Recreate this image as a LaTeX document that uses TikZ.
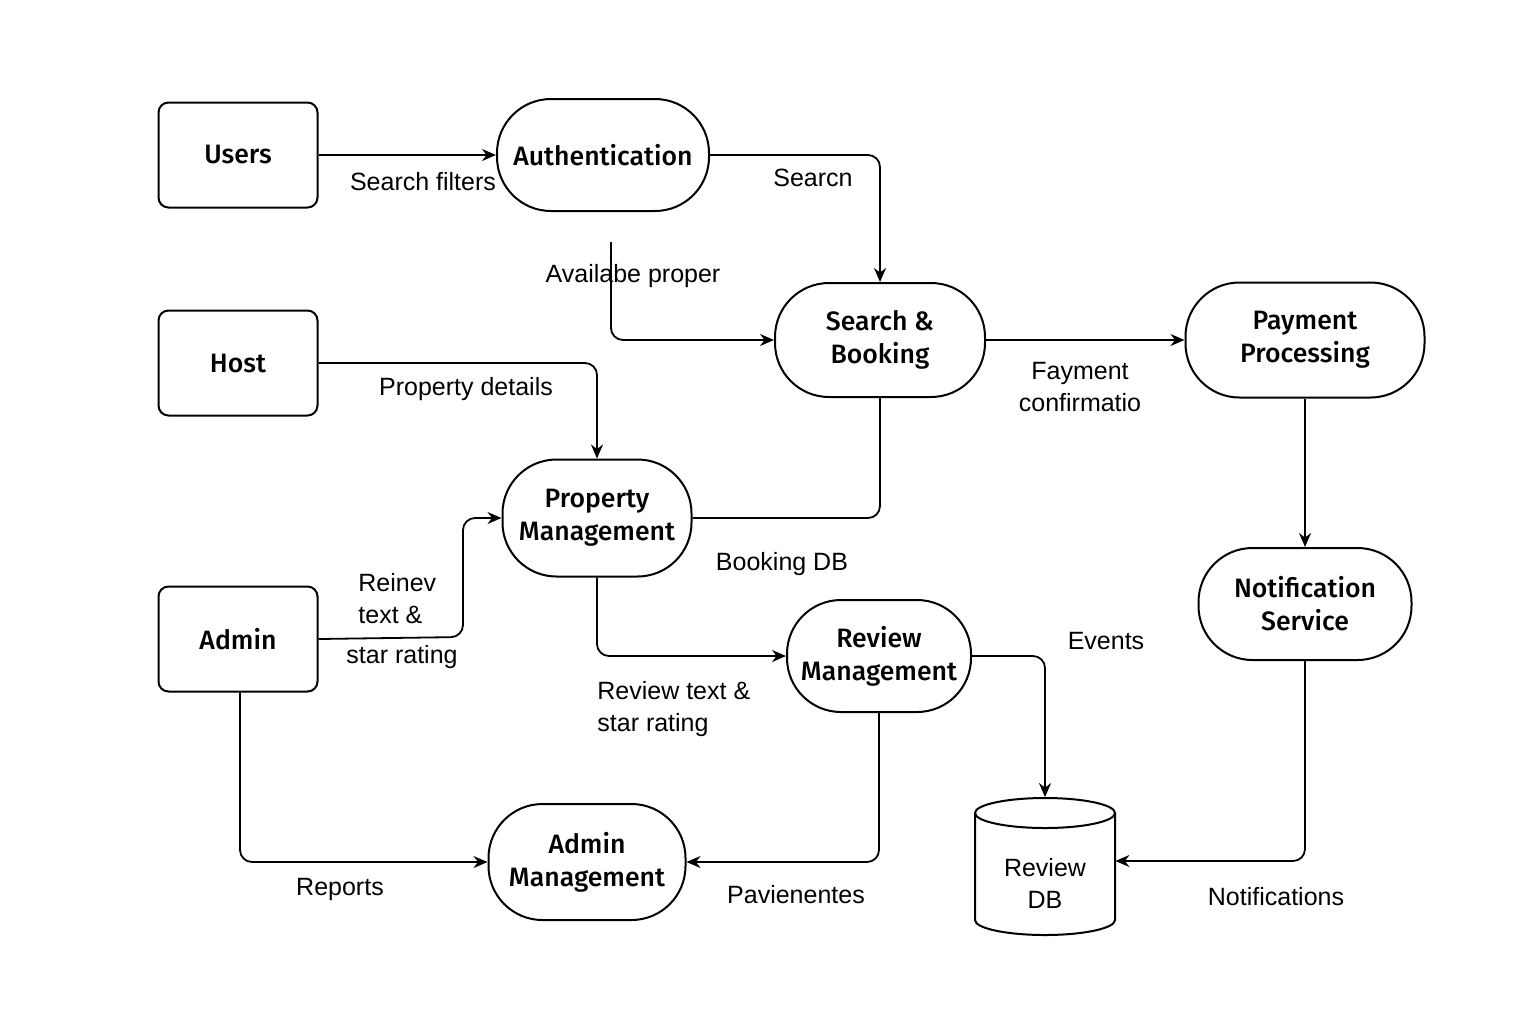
\documentclass[tikz,border=0pt]{standalone}
\usepackage{fontspec}
\setmainfont{Liberation Sans}
\newfontfamily\nodefont{Fira Sans Medium}
\usetikzlibrary{arrows.meta}
\begin{document}
\begin{tikzpicture}[x=0.5pt,y=-0.5pt,
  ent/.style={draw,line width=1pt,rounded corners=5pt,minimum width=79.5pt,minimum height=52.5pt,font=\nodefont\fontsize{13.3}{16.5}\selectfont},
  proc/.style={draw,line width=1pt,rounded corners=27pt,align=center,font=\nodefont\fontsize{13.3}{16.5}\selectfont,inner sep=0pt},
  conn/.style={line width=0.9pt,rounded corners=6pt},
  arr/.style={conn,-{Stealth[length=7pt,width=6pt]}},
  lbl/.style={font=\fontsize{12.5}{16}\selectfont,align=left,inner sep=0pt}
]
\useasboundingbox[fill=white] (0,0) rectangle (1536,1024);
% entities
\node[ent] (users) at (238,155) {Users};
\node[ent] (host) at (238,363) {Host};
\node[ent] (admin) at (238,639) {Admin};
% processes
\node[proc,minimum width=106pt,minimum height=56pt] (auth) at (603,155) {Authentication};
\node[proc,minimum width=105pt,minimum height=57pt] (sb) at (880,340) {Search \&\\Booking};
\node[proc,minimum width=119.5pt,minimum height=57.5pt] (pay) at (1305,340) {Payment\\Processing};
\node[proc,minimum width=94.5pt,minimum height=58.5pt] (pm) at (597,518) {Property\\Management};
\node[proc,minimum width=106.5pt,minimum height=56pt] (ns) at (1305,604) {Notification\\Service};
\node[proc,minimum width=92pt,minimum height=56pt] (rm) at (879,656) {Review\\Management};
\node[proc,minimum width=98.5pt,minimum height=58pt] (am) at (587,862) {Admin\\Management};
% database
\node[minimum width=70pt,minimum height=68.5pt,inner sep=0pt] (rdb) at (1045,866) {};
\draw[line width=1pt,fill=white] (975,813) -- (975,920) arc[start angle=180,end angle=0,x radius=70,y radius=15] -- (1115,813);
\draw[line width=1pt] (1045,813) ellipse [x radius=70,y radius=15];
\node[font=\fontsize{12.5}{16}\selectfont,align=center] at (1045,883) {Review\\DB};
% free start
\coordinate (avs) at (611,242);
% connectors
\draw[arr] (users.east) -- (auth.west);
\draw[arr] (auth.east) -| (sb.north);
\draw[arr] (avs) |- (sb.west);
\draw[arr] (sb.east) -- (pay.west);
\draw[arr] (host.east) -| (pm.north);
\draw[conn] (sb.south) |- (pm.east);
\draw[arr] (pay.south) -- (ns.north);
\draw[arr] (admin.east) -- (463,637) |- (pm.west);
\draw[arr] (pm.south) |- (rm.west);
\draw[arr] (rm.east) -| (rdb.north);
\draw[arr] (ns.south) |- ([yshift=2.5pt]rdb.east);
\draw[arr] ([xshift=1pt]admin.south) |- (am.west);
\draw[arr] (rm.south) |- (am.east);
% labels
\node[lbl] at (423,182) {Search filters};
\node[lbl] at (813,178) {Searcn};
\node[lbl] at (633,276) {Availabe proper};
\node[lbl,align=center] at (1080,387) {Fayment\\confirmatio};
\node[lbl] at (466,389) {Property details};
\node[lbl] at (782,564) {Booking DB};
\node[lbl,anchor=west] at (358,599) {Reinev\\text \&};
\node[lbl] at (402,657) {star rating};
\node[lbl,anchor=west] at (597,709) {Review text \&\\star rating};
\node[lbl] at (1106,641) {Events};
\node[lbl] at (1276,897) {Notifications};
\node[lbl] at (340,889) {Reports};
\node[lbl] at (796,895) {Pavienentes};
\end{tikzpicture}
\end{document}
